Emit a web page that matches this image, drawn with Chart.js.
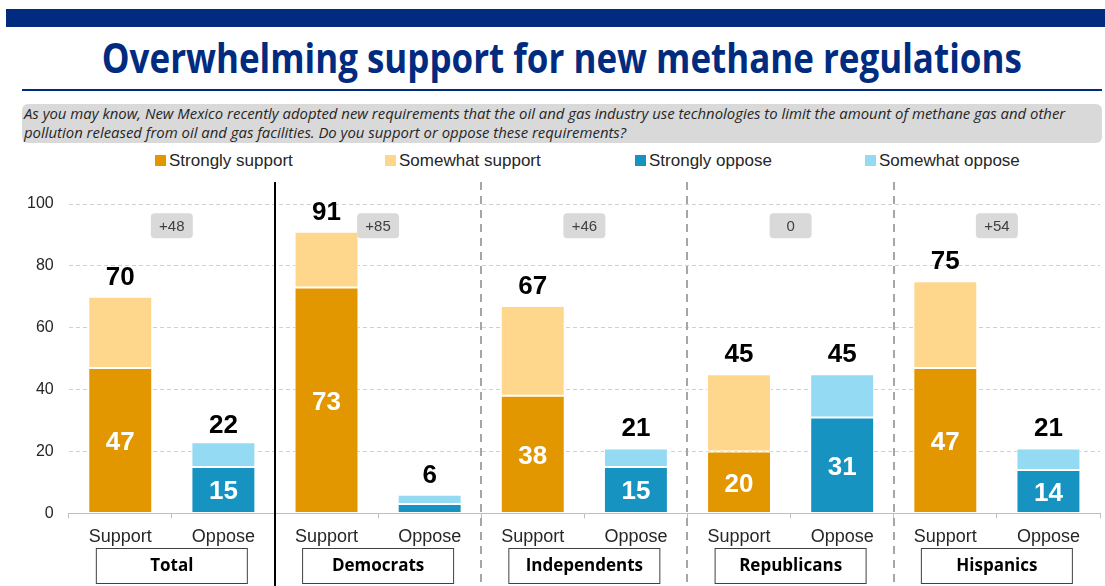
<!DOCTYPE html>
<html>
<head>
<meta charset="utf-8">
<script src="https://cdn.jsdelivr.net/npm/chart.js@4"></script>
<style>
  body { margin: 0; width: 1105px; height: 586px; background: #fff; position: relative; overflow: hidden; font-family: "Liberation Sans", Arial, sans-serif; }
  .topbar { position: absolute; left: 6px; top: 9px; width: 1099px; height: 18px; background: #002b7f; }
  .title { position: absolute; left: 9px; top: 28px; width: 1105px; text-align: center; white-space: nowrap; }
  .title span { display: inline-block; font-family: "Open Sans", sans-serif; font-weight: 700; font-size: 42px; color: #002b7f; transform-origin: center; }
  .rule { position: absolute; left: 22px; top: 89px; width: 1080px; height: 2px; background: #002b7f; }
  .question { position: absolute; left: 22px; top: 104px; width: 1080px; height: 39px; background: #d9d9d9; border-radius: 6px; font-family: "Open Sans", sans-serif; font-style: italic; font-size: 14.9px; line-height: 19px; color: #262626; padding: 0 0 0 2px; box-sizing: border-box; white-space: nowrap; }
  .legend { position: absolute; top: 151px; font-size: 17px; color: #262626; white-space: nowrap; }
  .legend i { display: inline-block; width: 11px; height: 11px; margin-right: 3px; vertical-align: 0; }
  canvas { position: absolute; left: 0; top: 175px; }
</style>
</head>
<body>
<div class="topbar"></div>
<div class="title"><span id="title">Overwhelming support for new methane regulations</span></div>
<div class="rule"></div>
<div class="question">As you may know, New Mexico recently adopted new requirements that the oil and gas industry use technologies to limit the amount of methane gas and other<br>pollution released from oil and gas facilities. Do you support or oppose these requirements?</div>
<div id="legend"></div>
<canvas id="chart" width="1105" height="411"></canvas>
<script>
// data
const groups = ["Total", "Democrats", "Independents", "Republicans", "Hispanics"];
const barNames = ["Support", "Oppose"];
const strongSupport = [47, 73, 38, 20, 47];
const somewhatSupport = [23, 18, 29, 25, 28];
const strongOppose = [15, 3, 15, 31, 14];
const somewhatOppose = [8, 3, 6, 14, 7];
const supportTotals = [70, 91, 67, 45, 75];
const opposeTotals = [22, 6, 21, 45, 21];
const netLabels = ["+48", "+85", "+46", "0", "+54"];
const yTicks = [0, 20, 40, 60, 80, 100];

const seriesNames = ["Strongly support", "Somewhat support", "Strongly oppose", "Somewhat oppose"];
const colors = ["#e29600", "#ffd78c", "#1693c0", "#93daf2"];

// fit title to width of the original
const t = document.getElementById("title");
t.style.transform = "scaleX(" + (920 / t.getBoundingClientRect().width) + ")";

// legend
const legendX = [155, 385, 635, 865];
const legendBox = document.getElementById("legend");
seriesNames.forEach((n, i) => {
  const d = document.createElement("div");
  d.className = "legend";
  d.style.left = legendX[i] + "px";
  d.innerHTML = '<i style="background:' + colors[i] + '"></i>' + n;
  legendBox.appendChild(d);
});

const labels = [];
groups.forEach(() => barNames.forEach(b => labels.push(b)));

// spread a group-level array onto support or oppose bars
function onBars(arr, side) {
  const out = [];
  arr.forEach(v => {
    out.push(side === 0 ? v : null);
    out.push(side === 1 ? v : null);
  });
  return out;
}

const totals = [];
supportTotals.forEach((v, i) => { totals.push(v); totals.push(opposeTotals[i]); });

const ds = (label, data, color) => ({
  label: label,
  data: data,
  backgroundColor: color,
  borderColor: "#ffffff",
  borderWidth: 1,
  borderSkipped: false,
  barPercentage: 0.62,
  categoryPercentage: 1,
  stack: "s"
});

const overlay = {
  id: "overlay",
  afterDraw(chart) {
    const ctx = chart.ctx;
    const x = chart.scales.x, y = chart.scales.y;
    const area = chart.chartArea;
    ctx.save();

    // group separators
    for (let g = 1; g < groups.length; g++) {
      const sx = Math.round((x.getPixelForValue(g * 2 - 1) + x.getPixelForValue(g * 2)) / 2);
      ctx.beginPath();
      ctx.lineWidth = 2;
      if (g === 1) {
        ctx.strokeStyle = "#000000";
        ctx.setLineDash([]);
      } else {
        ctx.strokeStyle = "#a6a6a6";
        ctx.setLineDash([8, 6]);
      }
      ctx.moveTo(sx, area.top - 22);
      ctx.lineTo(sx, chart.height);
      ctx.stroke();
    }
    ctx.setLineDash([]);

    // inner labels on strongly segments
    ctx.font = "bold 26px 'Liberation Sans', Arial, sans-serif";
    ctx.textAlign = "center";
    ctx.textBaseline = "alphabetic";
    [0, 2].forEach(di => {
      const meta = chart.getDatasetMeta(di);
      meta.data.forEach((bar, i) => {
        const v = chart.data.datasets[di].data[i];
        if (v == null || v < 10) return;
        ctx.fillStyle = "#ffffff";
        ctx.fillText(String(v), bar.x, (bar.y + bar.base) / 2 + 9.5);
      });
    });

    // totals above bars
    ctx.fillStyle = "#000000";
    totals.forEach((v, i) => {
      ctx.fillText(String(v), x.getPixelForValue(i), y.getPixelForValue(v) - 12);
    });

    // net boxes and group name boxes
    groups.forEach((g, gi) => {
      const cx = (x.getPixelForValue(gi * 2) + x.getPixelForValue(gi * 2 + 1)) / 2;
      const ny = y.getPixelForValue(93);
      ctx.fillStyle = "#d9d9d9";
      ctx.beginPath();
      ctx.roundRect(cx - 21, ny - 12.5, 42, 25, 4);
      ctx.fill();
      ctx.fillStyle = "#404040";
      ctx.font = "15px 'Liberation Sans', Arial, sans-serif";
      ctx.textBaseline = "middle";
      ctx.fillText(netLabels[gi], cx, ny + 1);

      const by = Math.round(y.getPixelForValue(0)) + 35;
      ctx.fillStyle = "#ffffff";
      ctx.fillRect(cx - 75.5, by, 151, 35);
      ctx.strokeStyle = "#404040";
      ctx.lineWidth = 1;
      ctx.strokeRect(cx - 75.5, by + 0.5, 151, 35);
      ctx.fillStyle = "#000000";
      ctx.font = "bold 17px 'Open Sans', sans-serif";
      ctx.fillText(g, cx, by + 18);
      ctx.textBaseline = "alphabetic";
      ctx.font = "bold 26px 'Liberation Sans', Arial, sans-serif";
    });
    ctx.restore();
  }
};

new Chart(document.getElementById("chart"), {
  type: "bar",
  data: {
    labels: labels,
    datasets: [
      ds(seriesNames[0], onBars(strongSupport, 0), colors[0]),
      ds(seriesNames[1], onBars(somewhatSupport, 0), colors[1]),
      ds(seriesNames[2], onBars(strongOppose, 1), colors[2]),
      ds(seriesNames[3], onBars(somewhatOppose, 1), colors[3]),
    ],
  },
  options: {
    responsive: false,
    animation: false,
    devicePixelRatio: 1,
    layout: { padding: { top: 29, left: 12, right: 5, bottom: 30 } },
    plugins: {
      legend: { display: false },
      tooltip: { enabled: false },
    },
    scales: {
      x: {
        stacked: true,
        grid: { display: true, drawOnChartArea: false, offset: true, color: "#bfbfbf", tickLength: 5 },
        border: { display: true, color: "#bfbfbf", width: 1 },
        ticks: { color: "#262626", padding: 8, font: { size: 18, family: "'Liberation Sans', Arial, sans-serif" } },
      },
      y: {
        stacked: true,
        min: 0,
        max: 100,
        afterBuildTicks: (axis) => { axis.ticks = yTicks.map(v => ({ value: v })); },
        grid: { color: "#d0d0d0", drawTicks: false },
        border: { display: false, dash: [4, 3] },
        ticks: { color: "#262626", padding: 15, font: { size: 16, family: "'Liberation Sans', Arial, sans-serif" } },
      },
    },
  },
  plugins: [overlay],
});
</script>
</body>
</html>
